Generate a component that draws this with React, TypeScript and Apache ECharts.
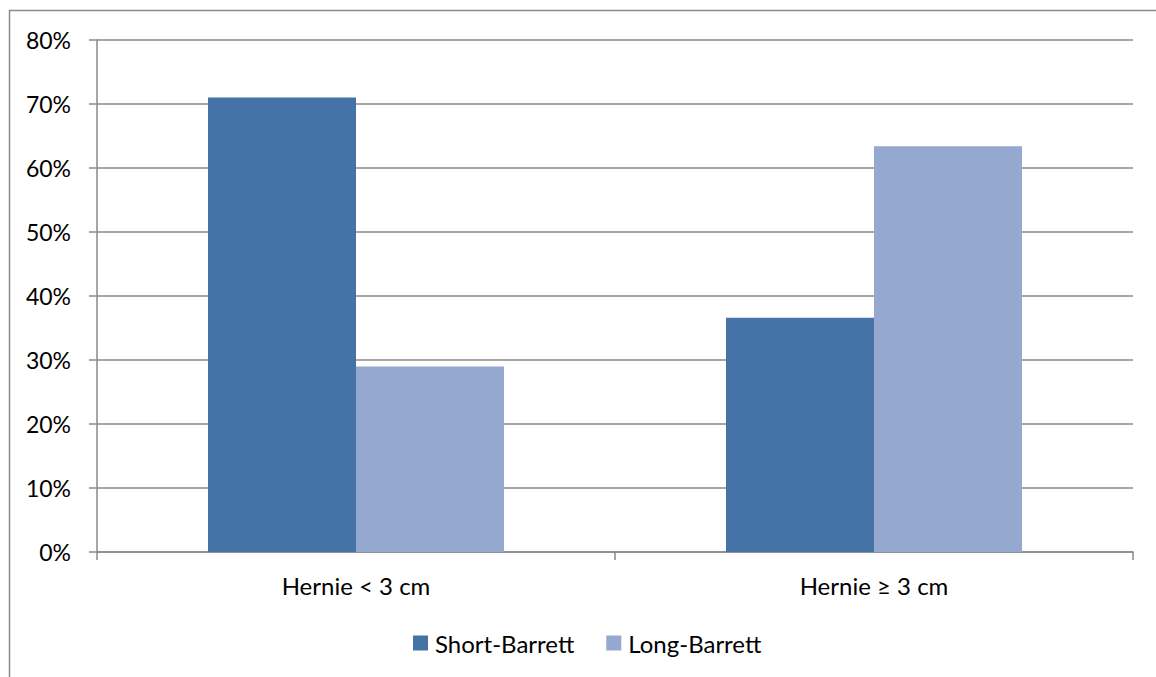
import React, { useEffect, useRef } from "react";
import * as echarts from "echarts";

const categories = ["Hernie < 3 cm", "Hernie ≥ 3 cm"];
const shortBarrett = [71, 36.6];
const longBarrett = [29, 63.4];
const seriesNames = ["Short-Barrett", "Long-Barrett"];

const FONT = "Lato, 'Open Sans', sans-serif";
const GRID_COLOR = "#8a8a8a";
const FONT_SIZE = 24;

export default function App() {
  const ref = useRef<HTMLDivElement>(null);

  useEffect(() => {
    if (!ref.current) return;
    const chart = echarts.init(ref.current, undefined, { renderer: "svg" });
    chart.setOption({
      animation: false,
      backgroundColor: "#ffffff",
      textStyle: { fontFamily: FONT },
      graphic: [
        {
          type: "rect",
          shape: { x: 9.5, y: 10.5, width: 1200, height: 700 },
          style: { fill: "none", stroke: GRID_COLOR, lineWidth: 1.5 },
          silent: true,
        },
      ],
      legend: {
        data: seriesNames,
        left: 408,
        top: 626,
        itemWidth: 15,
        itemHeight: 15,
        itemGap: 32,
        icon: "rect",
        textStyle: { fontSize: FONT_SIZE, color: "#000", fontFamily: FONT, padding: [0, 0, 0, 2] },
      },
      grid: { left: 97, right: 23, top: 40, bottom: 125, containLabel: false },
      xAxis: {
        type: "category",
        data: categories,
        axisLine: { lineStyle: { color: GRID_COLOR, width: 1.5 } },
        axisTick: { show: true, length: 8, alignWithLabel: false, lineStyle: { color: GRID_COLOR, width: 1.5 } },
        axisLabel: { color: "#000", fontSize: FONT_SIZE, margin: 21, fontFamily: FONT },
      },
      yAxis: {
        type: "value",
        min: 0,
        max: 80,
        interval: 10,
        axisLine: { show: true, lineStyle: { color: GRID_COLOR, width: 1.5 } },
        axisTick: { show: true, length: 8, lineStyle: { color: GRID_COLOR, width: 1.5 } },
        splitLine: { show: true, lineStyle: { color: GRID_COLOR, width: 1.5 } },
        axisLabel: { color: "#000", fontSize: 23, margin: 26, formatter: "{value}%", fontFamily: FONT },
      },
      series: [
        {
          name: seriesNames[0],
          type: "bar",
          data: shortBarrett,
          barWidth: 148,
          barGap: "0%",
          itemStyle: { color: "#4573a7" },
        },
        {
          name: seriesNames[1],
          type: "bar",
          data: longBarrett,
          barWidth: 148,
          barGap: "0%",
          itemStyle: { color: "#95a9d0" },
        },
      ],
    });
    return () => chart.dispose();
  }, []);

  return (
    <div
      ref={ref}
      style={{ position: "fixed", left: 0, top: 0, width: 1156, height: 677 }}
    />
  );
}
